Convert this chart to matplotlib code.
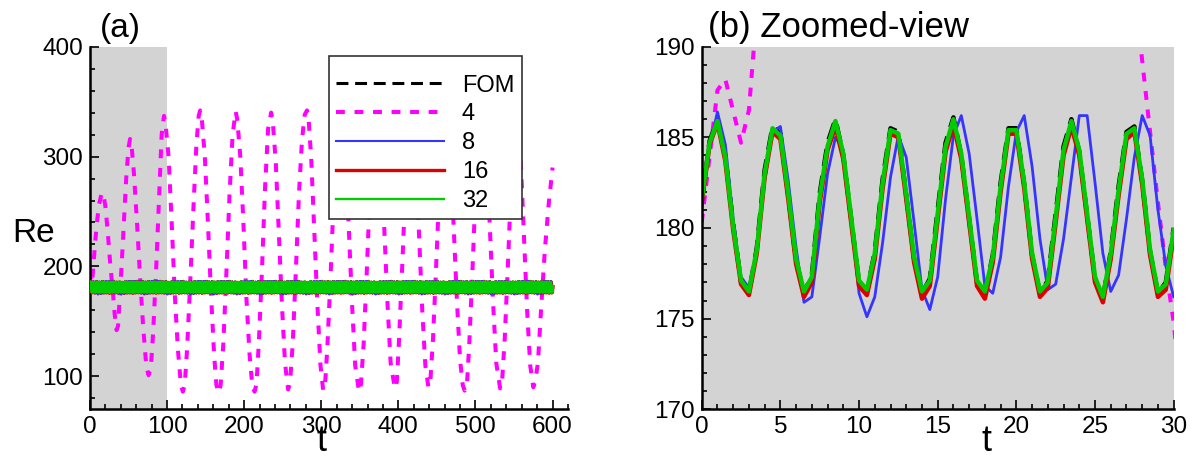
import numpy as np
import matplotlib
matplotlib.use('Agg')
import matplotlib.pyplot as plt
from matplotlib.lines import Line2D
from matplotlib.ticker import MultipleLocator

plt.rcParams['font.family'] = ['Liberation Sans', 'DejaVu Sans']

# sample times of the zoomed window, dt = 0.5
t_win = np.arange(61) * 0.5

re_fom = [181.5, 184.8, 186.0, 184.0, 180.2, 177.0, 176.4, 178.9, 183.2, 185.6,
          185.2, 181.8, 178.2, 176.4, 177.4, 181.9, 184.7, 186.0, 184.0, 180.5,
          177.0, 176.5, 178.7, 182.7, 185.5, 185.3, 181.8, 178.3, 176.4, 177.2,
          181.0, 184.7, 186.1, 184.0, 180.5, 177.0, 176.4, 178.5, 182.5, 185.5,
          185.5, 182.4, 178.5, 176.4, 177.1, 180.8, 184.5, 186.0, 184.2, 180.7,
          177.2, 176.1, 178.7, 182.3, 185.3, 185.6, 182.6, 178.7, 176.4, 177.0,
          180.0]
re_8 = [181.0, 184.5, 186.4, 184.6, 180.5, 177.3, 176.7, 178.7, 182.6, 185.3,
        185.6, 182.6, 178.9, 175.9, 176.2, 179.5, 183.0, 185.0, 184.3, 180.5,
        176.4, 175.1, 176.2, 179.2, 182.8, 185.1, 183.9, 180.3, 176.6, 175.5,
        177.3, 181.6, 185.1, 186.2, 184.1, 180.5, 176.8, 176.4, 178.4, 182.3,
        185.3, 186.2, 183.4, 179.4, 176.6, 176.9, 179.4, 182.8, 186.2, 186.2,
        182.5, 178.6, 176.5, 177.4, 180.5, 183.9, 186.2, 185.1, 181.0, 177.9,
        176.2]
re_16 = [181.4, 184.6, 185.8, 183.7, 179.9, 176.9, 176.3, 178.6, 182.8, 185.3,
         184.9, 181.6, 178.0, 176.2, 177.0, 181.4, 184.3, 185.6, 183.8, 180.3,
         176.8, 176.3, 178.3, 182.2, 185.2, 185.0, 181.6, 178.1, 176.1, 176.8,
         180.5, 184.2, 185.7, 183.8, 180.3, 176.8, 176.1, 178.1, 182.0, 185.2,
         185.2, 182.2, 178.3, 176.2, 176.7, 180.3, 184.0, 185.6, 184.0, 180.5,
         177.0, 175.9, 178.3, 181.8, 184.9, 185.3, 182.4, 178.5, 176.2, 176.6,
         179.6]
re_32 = [181.6, 184.7, 185.9, 183.9, 180.1, 177.1, 176.5, 178.8, 183.0, 185.5,
         185.1, 181.9, 178.3, 176.5, 177.3, 181.7, 184.5, 185.9, 184.1, 180.6,
         177.1, 176.6, 178.6, 182.5, 185.4, 185.2, 181.9, 178.4, 176.5, 177.1,
         180.8, 184.5, 186.0, 184.1, 180.6, 177.1, 176.5, 178.4, 182.3, 185.4,
         185.4, 182.5, 178.6, 176.5, 177.0, 180.6, 184.3, 185.9, 184.3, 180.8,
         177.3, 176.2, 178.6, 182.1, 185.2, 185.5, 182.7, 178.8, 176.5, 176.9,
         179.9]

# 4-mode ROM, read along the whole run
t_4 = [0, 1, 1.5, 2.5, 3, 3.5, 6, 9, 12, 15, 17, 20, 23, 26, 28, 28.5, 29, 29.5, 30, 32, 34.5, 36.5,
       38, 41, 44, 47, 50, 52, 54,
       57, 61, 65, 69, 73, 76, 79,
       82, 86, 90, 93, 96, 98,
       102, 106, 110, 114, 118, 120.5, 123,
       126, 130, 134, 138, 141, 143, 145,
       149, 153, 157, 161, 164, 167, 169.5,
       173, 177, 181, 185, 189, 191,
       195, 199, 203, 207, 210.5, 213.5, 216,
       219, 223, 227, 231, 235, 237,
       241, 245, 249, 253, 257, 259.5,
       263, 267, 271, 275, 278.5, 281.5, 283.5,
       287, 291, 295, 299, 302.5, 305,
       308, 312, 316, 320, 323, 326, 328,
       332, 336, 340, 344, 349, 351.5,
       355, 359, 363, 367, 372, 374,
       378, 382, 386, 390, 395.5, 398,
       401, 405, 409, 413, 417, 419,
       423, 427, 431, 435, 439, 441.5,
       445, 449, 453, 457, 462.5, 464.5,
       468, 472, 476, 480, 483.5, 486, 489,
       492, 496, 500, 504, 509, 511,
       515, 519, 523, 527, 532, 534.5,
       538, 542, 546, 550, 553.5, 555.5,
       559, 563, 567, 571, 575, 577.5,
       581, 585, 590, 595, 600]
re_4 = [180.3, 187.6, 188.2, 184.7, 186.5, 192, 215, 240, 257, 266, 267, 255, 232, 205, 189.2, 185.3, 181.4, 177.8, 174.8, 157, 142, 146,
        165, 200, 240, 280, 308, 316, 310,
        285, 240, 190, 145, 110, 101, 108,
        140, 200, 270, 320, 337, 330,
        300, 240, 175, 125, 92, 86, 93,
        125, 185, 250, 310, 337, 342, 335,
        300, 240, 175, 120, 92, 85, 92,
        130, 195, 265, 320, 341, 334,
        300, 240, 170, 120, 92, 86, 93,
        130, 195, 270, 325, 340, 333,
        295, 230, 165, 112, 88, 94,
        130, 195, 265, 315, 338, 342, 335,
        298, 232, 165, 110, 87, 93,
        128, 190, 260, 315, 335, 340, 334,
        295, 230, 165, 110, 86, 93,
        130, 195, 265, 318, 340, 334,
        295, 230, 165, 112, 89, 95,
        135, 200, 270, 322, 340, 334,
        292, 225, 160, 110, 90, 96,
        135, 200, 268, 320, 340, 334,
        296, 232, 168, 115, 92, 87, 93,
        130, 195, 265, 318, 340, 334,
        295, 230, 165, 112, 89, 95,
        135, 200, 270, 322, 340, 334,
        292, 225, 160, 110, 90, 96,
        112, 160, 215, 257, 290]

labels = ['FOM', '4', '8', '16', '32']
t_end = 600
train_end = 100

GREY = '#d3d3d3'
MAGENTA = '#ff00ff'
BLUE = '#3535ff'
RED = '#dd0000'
GREEN = '#00cc00'

DASH_FOM = (0, (3.9, 2.2))
DASH_4 = (0, (2.2, 2.4))


def repeat_window(t, y, t_stop):
    # the saturated cycle repeats over the whole run
    t = np.asarray(t)[:-1]
    y = np.asarray(y)[:-1]
    span = t[-1] + (t[1] - t[0])
    n = int(np.ceil(t_stop / span))
    tt = np.concatenate([t + k * span for k in range(n)] + [[t_stop]])
    yy = np.concatenate([y] * n + [[y[0]]])
    return tt, yy


def style_axes(ax):
    for side in ['top', 'right']:
        ax.spines[side].set_visible(False)
    for side in ['left', 'bottom']:
        ax.spines[side].set_linewidth(1.8)
    ax.tick_params(which='both', direction='in', labelsize=17.5, width=1.2)
    ax.tick_params(which='major', length=6.5, pad=5)
    ax.tick_params(which='minor', length=3.8)


fig = plt.figure(figsize=(11.93, 4.59), dpi=100)
ax_a = fig.add_axes([0.0754, 0.1083, 0.4007, 0.79])
ax_b = fig.add_axes([0.5882, 0.1083, 0.3956, 0.79])

# (a) full run
ax_a.axvspan(0, train_end, color=GREY, lw=0, zorder=0)
ax_a.plot(t_4, re_4, color=MAGENTA, lw=2.9, ls=DASH_4, zorder=2)
for vals, col, lw, ls in [(re_fom, 'k', 2.6, DASH_FOM), (re_8, BLUE, 2.4, '-'),
                          (re_16, RED, 2.8, '-'), (re_32, GREEN, 2.3, '-')]:
    tt, yy = repeat_window(t_win, vals, t_end)
    ax_a.plot(tt, yy, color=col, lw=lw, ls=ls, zorder=3)
ax_a.set_xlim(0, 620)
ax_a.set_ylim(70, 400)
ax_a.xaxis.set_major_locator(MultipleLocator(100))
ax_a.xaxis.set_minor_locator(MultipleLocator(20))
ax_a.yaxis.set_major_locator(MultipleLocator(100))
ax_a.yaxis.set_minor_locator(MultipleLocator(20))
style_axes(ax_a)
ax_a.text(0.021, 1.027, '(a)', transform=ax_a.transAxes, fontsize=24, va='baseline', ha='left')
ax_a.text(-0.119, 0.461, 'Re', transform=ax_a.transAxes, fontsize=24, va='baseline', ha='center')
ax_a.text(0.485, -0.114, 't', transform=ax_a.transAxes, fontsize=26, va='baseline', ha='center')

handles = [Line2D([0], [0], color='k', lw=2.2, ls=DASH_FOM),
           Line2D([0], [0], color=MAGENTA, lw=2.9, ls=DASH_4),
           Line2D([0], [0], color=BLUE, lw=1.5),
           Line2D([0], [0], color=RED, lw=2.4),
           Line2D([0], [0], color=GREEN, lw=1.7)]
leg = ax_a.legend(handles, labels, loc='upper left', bbox_to_anchor=(0.2754, 0.8787),
                  bbox_transform=fig.transFigure, borderaxespad=0, fontsize=17,
                  handlelength=4.6, handletextpad=0.75, labelspacing=0.29, borderpad=0.3,
                  title=' ', title_fontsize=4,
                  fancybox=False, framealpha=1, edgecolor='#333333')
leg.get_frame().set_linewidth(1.2)
leg.set_zorder(10)

# (b) zoomed view
ax_b.set_facecolor(GREY)
ax_b.plot(t_4, re_4, color=MAGENTA, lw=2.9, ls=DASH_4)
ax_b.plot(t_win, re_fom, color='k', lw=3.2, ls=DASH_FOM)
ax_b.plot(t_win, re_8, color=BLUE, lw=2.0)
ax_b.plot(t_win, re_16, color=RED, lw=3.2)
ax_b.plot(t_win, re_32, color=GREEN, lw=3.2)
ax_b.set_xlim(0, 30)
ax_b.set_ylim(170, 190)
ax_b.xaxis.set_major_locator(MultipleLocator(5))
ax_b.xaxis.set_minor_locator(MultipleLocator(1))
ax_b.yaxis.set_major_locator(MultipleLocator(5))
ax_b.yaxis.set_minor_locator(MultipleLocator(1))
style_axes(ax_b)
ax_b.text(0.013, 1.027, '(b) Zoomed-view', transform=ax_b.transAxes, fontsize=25,
          va='baseline', ha='left')
ax_b.text(0.604, -0.114, 't', transform=ax_b.transAxes, fontsize=26, va='baseline', ha='center')

fig.savefig('out.png', dpi=100)
